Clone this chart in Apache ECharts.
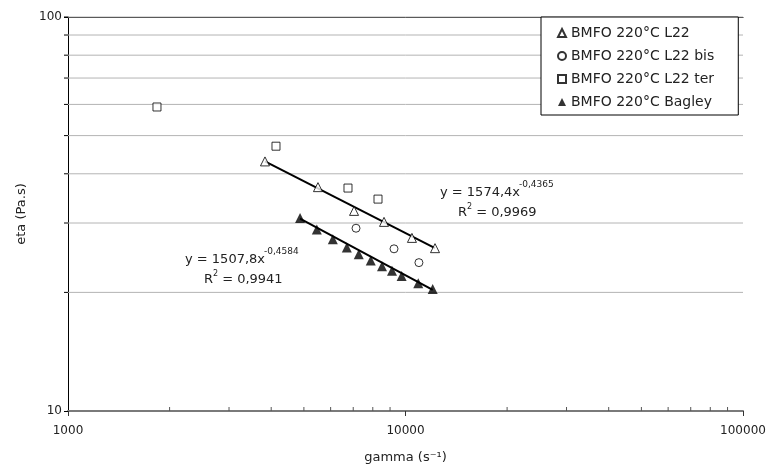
<!DOCTYPE html>
<html>
<head>
<meta charset="utf-8">
<script src="https://cdn.jsdelivr.net/npm/echarts@6/dist/echarts.min.js"></script>
<style>html,body{margin:0;padding:0;background:#fff}#c{width:769px;height:471px}</style>
</head>
<body>
<div id="c"></div>
<script>
// Data
const seriesNames = ['BMFO 220°C L22', 'BMFO 220°C L22 bis', 'BMFO 220°C L22 ter', 'BMFO 220°C Bagley'];
const l22 = [[3834, 43.0], [5504, 37.0], [7040, 32.2], [8637, 30.2], [10450, 27.5], [12230, 25.9]];
const l22bis = [[7135, 29.1], [9246, 25.8], [10960, 23.8]];
const l22ter = [[1835, 59.1], [4133, 47.0], [6755, 36.8], [8290, 34.5]];
const bagley = [[4870, 30.9], [5460, 28.9], [6090, 27.3], [6700, 26.0], [7270, 25.0], [7890, 24.1],
                [8520, 23.3], [9120, 22.7], [9740, 22.0], [10910, 21.1], [12040, 20.4]];
const trendL22 = [[3834, 43.0], [12230, 25.9]];
const trendBagley = [[4870, 30.8], [12040, 20.3]];
const yGridValues = [20, 30, 40, 50, 60, 70, 80, 90, 100];
const xMinorTicks = [2000, 3000, 4000, 5000, 6000, 7000, 8000, 9000, 20000, 30000, 40000, 50000, 60000, 70000, 80000, 90000];
const eqL22 = ['y = 1574,4x', '-0,4365', 'R', '2', ' = 0,9969'];
const eqBagley = ['y = 1507,8x', '-0,4584', 'R', '2', ' = 0,9941'];

const FONT = 'DejaVu Sans';
const chart = echarts.init(document.getElementById('c'), null, {renderer: 'canvas'});

const hollow = {color: '#fff', borderColor: '#000', borderWidth: 1};

function tickSeries() {
  return {
    type: 'custom',
    silent: true,
    z: 1,
    data: xMinorTicks.map(v => [v, 10]),
    renderItem: function (params, api) {
      const p = api.coord([api.value(0), api.value(1)]);
      return {type: 'line', shape: {x1: p[0], y1: p[1], x2: p[0], y2: p[1] - 4}, style: {stroke: '#555', lineWidth: 1}};
    }
  };
}

function yTickSeries() {
  return {
    type: 'custom',
    silent: true,
    z: 1,
    data: yGridValues.map(v => [1000, v]),
    renderItem: function (params, api) {
      const p = api.coord([api.value(0), api.value(1)]);
      const right = api.coord([100000, api.value(1)])[0];
      return {type: 'group', children: [
        {type: 'line', shape: {x1: p[0], y1: p[1], x2: right, y2: p[1]}, style: {stroke: '#b4b4b4', lineWidth: 1}},
        {type: 'line', shape: {x1: p[0] - 4, y1: p[1], x2: p[0], y2: p[1]}, style: {stroke: '#000', lineWidth: 1}}
      ]};
    }
  };
}

const option = {
  animation: false,
  backgroundColor: '#fff',
  textStyle: {fontFamily: FONT},
  grid: {left: 68, right: 26, top: 17, bottom: 60},
  xAxis: [{
    type: 'log', logBase: 10, min: 1000, max: 100000,
    name: 'gamma (s⁻¹)', nameLocation: 'middle', nameGap: 40,
    nameTextStyle: {fontSize: 13, color: '#222', fontFamily: FONT},
    axisLine: {onZero: false, lineStyle: {color: '#7a7a7a', width: 2}},
    axisTick: {show: true, inside: false, length: 5, lineStyle: {color: '#333'}},
    axisLabel: {fontSize: 12, color: '#222', margin: 14, fontFamily: FONT, formatter: v => String(Math.round(v))},
    splitLine: {show: false}
  }, {
    type: 'log', logBase: 10, min: 1000, max: 100000, position: 'top',
    axisLine: {onZero: false, lineStyle: {color: '#000', width: 1}},
    axisTick: {show: false}, axisLabel: {show: false}, splitLine: {show: false}
  }],
  yAxis: {
    type: 'log', logBase: 10, min: 10, max: 100,
    name: 'eta (Pa.s)', nameLocation: 'middle', nameGap: 40, nameRotate: 90,
    nameTextStyle: {fontSize: 13, color: '#222', fontFamily: FONT},
    axisLine: {show: true, onZero: false, lineStyle: {color: '#000', width: 1}},
    axisTick: {show: true, length: 4, lineStyle: {color: '#000'}},
    axisLabel: {fontSize: 12, color: '#222', margin: 6, fontFamily: FONT, formatter: v => String(Math.round(v))},
    splitLine: {show: false}
  },
  legend: {
    data: seriesNames,
    orient: 'vertical',
    left: 541, top: 17,
    padding: [9, 24, 6, 16],
    itemGap: 9,
    itemWidth: 8, itemHeight: 8,
    backgroundColor: '#fff',
    borderColor: '#000', borderWidth: 1, borderRadius: 0,
    textStyle: {fontSize: 14, color: '#222', fontFamily: FONT},
    z: 10
  },
  series: [
    yTickSeries(),
    tickSeries(),
    {type: 'line', data: trendL22, showSymbol: false, symbol: 'none', lineStyle: {color: '#000', width: 2}, z: 2, silent: true},
    {type: 'line', data: trendBagley, showSymbol: false, symbol: 'none', lineStyle: {color: '#000', width: 2}, z: 2, silent: true},
    {name: seriesNames[0], type: 'scatter', data: l22, symbol: 'triangle', symbolSize: 9, itemStyle: hollow, z: 3},
    {name: seriesNames[1], type: 'scatter', data: l22bis, symbol: 'circle', symbolSize: 8, itemStyle: hollow, z: 3},
    {name: seriesNames[2], type: 'scatter', data: l22ter, symbol: 'rect', symbolSize: 8, itemStyle: hollow, z: 3},
    {name: seriesNames[3], type: 'scatter', data: bagley, symbol: 'triangle', symbolSize: 10, itemStyle: {color: '#000'}, z: 3}
  ],
  graphic: [
    {type: 'text', left: 440, top: 186, style: {text: eqL22[0], font: '13px "DejaVu Sans"', fill: '#222'}},
    {type: 'text', left: 519, top: 180, style: {text: eqL22[1], font: '9px "DejaVu Sans"', fill: '#222'}},
    {type: 'text', left: 458, top: 206, style: {text: eqL22[2], font: '13px "DejaVu Sans"', fill: '#222'}},
    {type: 'text', left: 467, top: 203, style: {text: eqL22[3], font: '8px "DejaVu Sans"', fill: '#222'}},
    {type: 'text', left: 472, top: 206, style: {text: eqL22[4], font: '13px "DejaVu Sans"', fill: '#222'}},
    {type: 'text', left: 185, top: 253, style: {text: eqBagley[0], font: '13px "DejaVu Sans"', fill: '#222'}},
    {type: 'text', left: 264, top: 247, style: {text: eqBagley[1], font: '9px "DejaVu Sans"', fill: '#222'}},
    {type: 'text', left: 204, top: 273, style: {text: eqBagley[2], font: '13px "DejaVu Sans"', fill: '#222'}},
    {type: 'text', left: 213, top: 270, style: {text: eqBagley[3], font: '8px "DejaVu Sans"', fill: '#222'}},
    {type: 'text', left: 218, top: 273, style: {text: eqBagley[4], font: '13px "DejaVu Sans"', fill: '#222'}}
  ]
};
chart.setOption(option);
</script>
</body>
</html>
